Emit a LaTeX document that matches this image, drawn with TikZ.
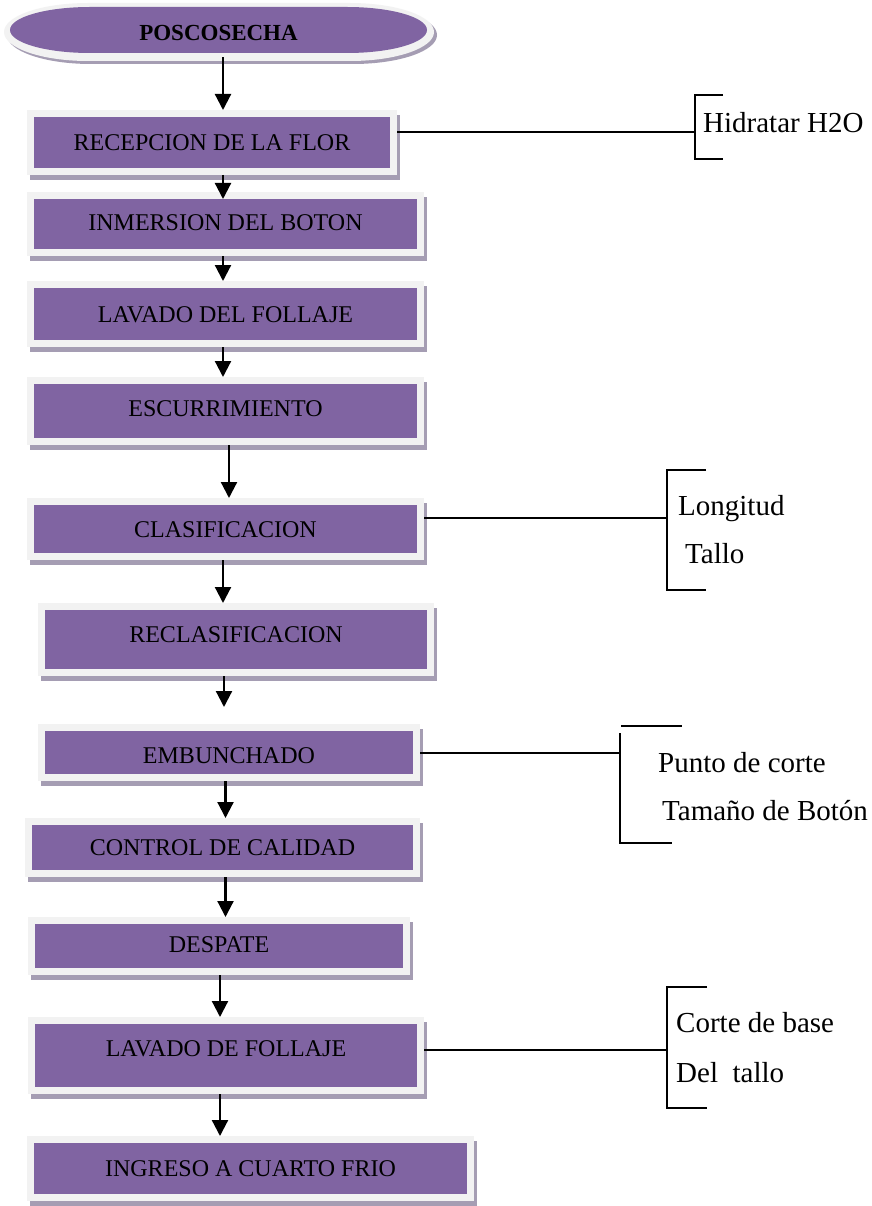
\documentclass[tikz,border=0pt]{standalone}
\usepackage{fontspec}
\setmainfont{Liberation Serif}
\usetikzlibrary{shapes.geometric,arrows.meta,calc}
\definecolor{purp}{RGB}{128,100,162}
\definecolor{framec}{RGB}{242,242,242}
\definecolor{shad}{RGB}{165,157,179}
\begin{document}
\begin{tikzpicture}[x=1pt,y=-1pt,
 pbox/.style={rectangle, fill=purp, draw=framec, line width=7pt, inner sep=0pt, outer sep=3.5pt,
   text height=16pt, text depth=0pt, font=\fontsize{24}{28}\selectfont,
   preaction={draw=shad, fill=shad, line width=7pt, transform canvas={shift={(3pt,-5pt)}}}},
 arr/.style={line width=2.2pt, -{Triangle[width=16pt,length=16pt]}},
 conn/.style={line width=1.5pt},
 side/.style={anchor=base west, inner sep=0pt, font=\fontsize{29}{34}\selectfont},
]
\useasboundingbox (0,0) rectangle (871,1206);
\fill[white] (0,0) rectangle (871,1206);

% title shape
\fill[shad] (91,6) -- (353,6) arc[start angle=-90, end angle=90, x radius=84, y radius=29]
  -- (91,64) arc[start angle=90, end angle=270, x radius=84, y radius=29] -- cycle;
\fill[framec] (88,3) -- (350,3) arc[start angle=-90, end angle=90, x radius=84, y radius=29]
  -- (88,61) arc[start angle=90, end angle=270, x radius=84, y radius=29] -- cycle;
\fill[purp] (90,7) -- (347,7) arc[start angle=-90, end angle=90, x radius=80, y radius=23]
  -- (90,53) arc[start angle=90, end angle=270, x radius=80, y radius=23] -- cycle;
\node[rectangle, minimum width=417, minimum height=46, inner sep=0pt,
  text height=22pt, text depth=0pt, font=\bfseries\fontsize{23}{26}\selectfont] (top) at (218.5,30) {POSCOSECHA};

% boxes
\node[pbox, minimum width=363, minimum height=58] (b1) at (212,142.5) {RECEPCION DE LA FLOR};
\node[pbox, minimum width=390, minimum height=57, text depth=4pt] (b2) at (225.5,224) {INMERSION DEL BOTON};
\node[pbox, minimum width=390, minimum height=59] (b3) at (225.5,314) {LAVADO DEL FOLLAJE};
\node[pbox, minimum width=390, minimum height=61, text depth=6pt] (b4) at (225.5,411) {ESCURRIMIENTO};
\node[pbox, minimum width=390, minimum height=55] (b5) at (225.5,529) {CLASIFICACION};
\node[pbox, minimum width=389, minimum height=66, text depth=11pt] (b6) at (236,639.5) {RECLASIFICACION};
\node[pbox, minimum width=375, minimum height=50, text height=21pt] (b7) at (229,752.5) {EMBUNCHADO};
\node[pbox, minimum width=388, minimum height=52] (b8) at (222.5,847.5) {CONTROL DE CALIDAD};
\node[pbox, minimum width=375, minimum height=51, text depth=4pt] (b9) at (219,946) {DESPATE};
\node[pbox, minimum width=389, minimum height=70, text depth=15pt] (b10) at (226,1055.5) {LAVADO DE FOLLAJE};
\node[pbox, minimum width=440, minimum height=58] (b11) at (250.5,1168.5) {INGRESO A CUARTO FRIO};

% arrow axes
\coordinate (xa) at (223,0);
\coordinate (xb) at (229,0);
\coordinate (xc) at (224,0);
\coordinate (xd) at (225.5,0);
\coordinate (xe) at (220,0);

\draw[arr] ($(top.south -| xa)+(0,4)$) -- (b1.north -| xa);
\draw[arr, shorten >=-7pt] (b1.south -| xa) -- (b2.north -| xa);
\draw[arr] (b2.south -| xa) -- (b3.north -| xa);
\draw[arr] (b3.south -| xa) -- (b4.north -| xa);
\draw[arr] (b4.south -| xb) -- (b5.north -| xb);
\draw[arr] (b5.south -| xa) -- (b6.north -| xa);
\draw[arr, shorten >=17pt] (b6.south -| xc) -- (b7.north -| xc);
\draw[arr] (b7.south -| xd) -- (b8.north -| xd);
\draw[arr] (b8.south -| xd) -- (b9.north -| xd);
\draw[arr] (b9.south -| xe) -- (b10.north -| xe);
\draw[arr] (b10.south -| xe) -- (b11.north -| xe);

% side notes
\node[side] (s1) at (703,133) {Hidratar H2O};
\node[side] (s2) at (678,515) {Longitud};
\node[side] (s3) at (685,563) {Tallo};
\node[side] (s4) at (658,772) {Punto de corte};
\node[side] (s5) at (662,820) {Tamaño de Botón};
\node[side] (s6) at (676,1032) {Corte de base};
\node[side] (s7) at (676,1082) {Del~~tallo};

\coordinate (k1) at (695,132);
\draw[conn] (b1.east |- k1) -- (k1);
\draw[conn] (723,95) -- (695,95) -- (695,159) -- (723,159);

\coordinate (k2) at (667,518);
\draw[conn] (b5.east |- k2) -- (k2);
\draw[conn] (706,470) -- (667,470) -- (667,590) -- (706,590);

\coordinate (k3) at (620,753);
\draw[conn] (b7.east |- k3) -- (k3);
\draw[conn] (621,726) -- (682,726);
\draw[conn] (620,733) -- (620,843) -- (672,843);

\coordinate (k4) at (667,1050);
\draw[conn] (b10.east |- k4) -- (k4);
\draw[conn] (707,987) -- (667,987) -- (667,1108) -- (707,1108);
\end{tikzpicture}
\end{document}
